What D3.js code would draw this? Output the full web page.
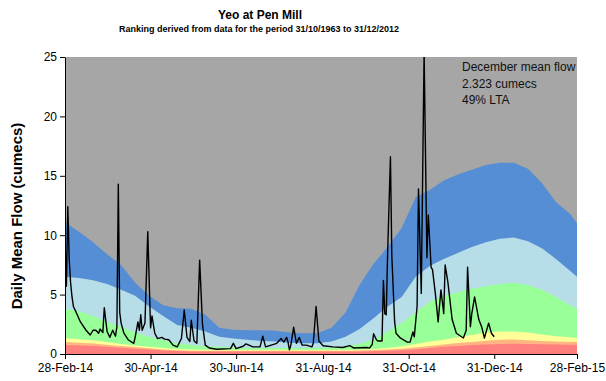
<!DOCTYPE html>
<html>
<head>
<meta charset="utf-8">
<script src="https://cdn.jsdelivr.net/npm/d3@7"></script>
<style>
  html, body { margin: 0; padding: 0; background: #ffffff; }
  svg { display: block; font-family: "Liberation Sans", Arial, sans-serif; }
</style>
</head>
<body>
<svg id="chart" width="606" height="381"></svg>
<script>
// Percentile band boundaries (cumecs), sampled every ten days across the water-year window
const bandDates = [
  "2014-02-28","2014-03-10","2014-03-20","2014-03-30","2014-04-09","2014-04-19","2014-04-29",
  "2014-05-09","2014-05-19","2014-05-29","2014-06-08","2014-06-18","2014-06-28","2014-07-08",
  "2014-07-18","2014-07-28","2014-08-07","2014-08-17","2014-08-27","2014-09-06","2014-09-16",
  "2014-09-26","2014-10-06","2014-10-16","2014-10-26","2014-11-05","2014-11-15","2014-11-25",
  "2014-12-05","2014-12-15","2014-12-25","2015-01-04","2015-01-14","2015-01-24","2015-02-03",
  "2015-02-13","2015-02-23","2015-02-28"
];
const notablyHighTop = [11.1,10.3,9.4,8.4,7.5,6.0,4.9,4.1,3.85,3.8,3.3,2.2,2.05,2.0,2.0,1.95,1.8,1.75,1.75,
  2.2,3.5,5.8,7.6,9.0,10.6,13.2,13.8,14.6,15.1,15.5,15.9,16.1,16.1,15.6,14.4,12.8,11.8,11.0];
const aboveNormalTop = [6.5,6.4,6.2,5.9,5.4,4.9,4.0,3.2,2.45,2.2,1.9,1.45,1.3,1.2,1.1,1.05,0.95,0.9,0.9,
  1.05,1.45,2.1,3.0,4.0,4.8,6.5,7.4,8.0,8.5,9.0,9.4,9.7,9.8,9.5,8.9,8.0,7.0,6.5];
const normalTop = [3.8,3.6,3.2,2.7,2.3,1.8,1.45,1.15,0.92,0.75,0.65,0.6,0.55,0.5,0.5,0.5,0.5,0.5,0.5,
  0.55,0.65,0.85,1.2,1.9,2.6,3.5,4.4,4.9,5.2,5.5,5.7,5.9,6.0,5.8,5.4,4.8,4.1,3.8];
const belowNormalTop = [1.35,1.25,1.15,1.0,0.85,0.72,0.6,0.5,0.42,0.38,0.35,0.35,0.35,0.35,0.35,0.35,0.35,0.35,0.35,
  0.35,0.35,0.38,0.42,0.5,0.65,0.85,1.05,1.2,1.4,1.6,1.8,1.9,1.9,1.8,1.65,1.5,1.4,1.35];
const notablyLowTop = [1.0,0.95,0.88,0.78,0.68,0.58,0.48,0.38,0.32,0.28,0.28,0.28,0.28,0.28,0.28,0.28,0.28,0.28,0.28,
  0.28,0.28,0.3,0.33,0.38,0.45,0.55,0.68,0.8,0.92,1.02,1.12,1.2,1.22,1.15,1.1,1.05,1.0,1.0];
const exceptionallyLowTop = [0.75,0.72,0.68,0.6,0.52,0.45,0.38,0.3,0.25,0.22,0.22,0.22,0.22,0.22,0.22,0.22,0.22,0.22,0.22,
  0.22,0.22,0.22,0.24,0.27,0.32,0.4,0.5,0.6,0.68,0.75,0.8,0.85,0.87,0.85,0.82,0.8,0.77,0.75];

// Band fill colours, highest band first
const bandColours = ["#558ED5", "#B7DEE8", "#99FF99", "#FFFF99", "#FFB583", "#FF7F7F"];
const bandSeries = [notablyHighTop, aboveNormalTop, normalTop, belowNormalTop, notablyLowTop, exceptionallyLowTop];

// Daily mean flow, 2014 (cumecs)
const dailyFlow = [
  ["2014-02-28",9.6],["2014-03-01",5.7],["2014-03-02",12.4],["2014-03-03",8.0],["2014-03-04",6.0],
  ["2014-03-05",4.8],["2014-03-06",4.0],["2014-03-08",3.5],["2014-03-11",2.7],["2014-03-15",2.0],
  ["2014-03-18",1.6],["2014-03-20",2.0],["2014-03-22",2.0],["2014-03-24",1.75],["2014-03-25",2.1],
  ["2014-03-27",1.8],["2014-03-28",3.9],["2014-03-30",1.9],["2014-04-01",1.4],["2014-04-03",2.0],
  ["2014-04-05",1.5],["2014-04-06",2.3],["2014-04-07",14.3],["2014-04-08",3.5],["2014-04-09",2.6],
  ["2014-04-11",1.75],["2014-04-14",1.2],["2014-04-18",0.9],["2014-04-19",1.4],["2014-04-21",2.7],
  ["2014-04-22",2.0],["2014-04-23",3.3],["2014-04-24",2.0],["2014-04-26",2.6],["2014-04-28",10.3],
  ["2014-04-30",2.2],["2014-05-01",3.2],["2014-05-03",1.75],["2014-05-05",1.3],["2014-05-08",1.4],
  ["2014-05-10",1.25],["2014-05-13",1.2],["2014-05-16",0.75],["2014-05-19",0.6],["2014-05-22",1.3],
  ["2014-05-24",3.7],["2014-05-26",1.4],["2014-05-28",1.05],["2014-05-29",2.85],["2014-05-31",1.1],
  ["2014-06-02",0.9],["2014-06-04",7.9],["2014-06-06",2.5],["2014-06-08",0.75],["2014-06-11",0.5],
  ["2014-06-16",0.4],["2014-06-26",0.45],["2014-06-28",0.9],["2014-06-30",0.45],["2014-07-05",0.65],
  ["2014-07-07",0.85],["2014-07-12",0.6],["2014-07-17",0.6],["2014-07-19",1.5],["2014-07-21",0.6],
  ["2014-07-25",0.75],["2014-07-29",0.9],["2014-08-01",1.3],["2014-08-03",1.0],["2014-08-05",1.4],
  ["2014-08-06",1.0],["2014-08-07",0.35],["2014-08-08",0.75],["2014-08-10",2.25],["2014-08-12",0.9],
  ["2014-08-14",1.4],["2014-08-16",0.75],["2014-08-19",0.75],["2014-08-23",0.6],["2014-08-24",0.9],
  ["2014-08-26",4.0],["2014-08-28",1.1],["2014-08-31",0.7],["2014-09-07",0.6],["2014-09-14",0.55],
  ["2014-09-19",0.7],["2014-09-22",0.5],["2014-10-01",0.55],["2014-10-03",0.5],["2014-10-05",0.8],
  ["2014-10-06",1.7],["2014-10-08",1.2],["2014-10-09",1.1],["2014-10-12",1.1],["2014-10-13",6.2],
  ["2014-10-14",3.4],["2014-10-15",3.3],["2014-10-16",8.5],["2014-10-18",16.6],["2014-10-19",8.2],
  ["2014-10-21",2.7],["2014-10-22",1.75],["2014-10-25",1.35],["2014-10-30",1.0],["2014-11-01",1.0],
  ["2014-11-03",1.85],["2014-11-04",1.45],["2014-11-06",4.0],["2014-11-07",13.9],["2014-11-09",5.1],
  ["2014-11-11",25.5],["2014-11-13",8.1],["2014-11-14",11.7],["2014-11-16",7.3],["2014-11-17",7.1],
  ["2014-11-19",5.1],["2014-11-21",2.7],["2014-11-23",5.4],["2014-11-25",3.4],["2014-11-26",7.5],
  ["2014-11-28",6.0],["2014-12-01",2.9],["2014-12-04",1.75],["2014-12-09",1.35],["2014-12-11",2.0],
  ["2014-12-12",7.3],["2014-12-14",2.3],["2014-12-15",3.4],["2014-12-17",4.8],["2014-12-20",2.9],
  ["2014-12-22",2.3],["2014-12-24",1.35],["2014-12-27",2.6],["2014-12-29",1.75],["2014-12-31",1.45]
];

const xTickDates = ["2014-02-28","2014-04-30","2014-06-30","2014-08-31","2014-10-31","2014-12-31","2015-02-28"];
const yTicks = [0, 5, 10, 15, 20, 25];
const noteLines = ["December mean flow", "2.323 cumecs", "49% LTA"];

const parse = d3.timeParse("%Y-%m-%d");
const svg = d3.select("#chart");
const plot = { left: 65, right: 577, top: 57, bottom: 354 };

const x = d3.scaleTime()
  .domain([parse("2014-02-28"), parse("2015-02-28")])
  .range([plot.left, plot.right]);
const y = d3.scaleLinear().domain([0, 25]).range([plot.bottom, plot.top]);

// clip region for the plot area
svg.append("defs").append("clipPath").attr("id", "plotClip")
  .append("rect")
  .attr("x", plot.left).attr("y", plot.top)
  .attr("width", plot.right - plot.left).attr("height", plot.bottom - plot.top);

const g = svg.append("g").attr("clip-path", "url(#plotClip)");

// exceptionally high background
g.append("rect")
  .attr("x", plot.left).attr("y", plot.top)
  .attr("width", plot.right - plot.left).attr("height", plot.bottom - plot.top)
  .attr("fill", "#A6A6A6");

const bandDateObjs = bandDates.map(parse);
bandSeries.forEach((series, i) => {
  const area = d3.area()
    .x((d, j) => x(bandDateObjs[j]))
    .y0(y(0))
    .y1(d => y(d));
  g.append("path")
    .datum(series)
    .attr("d", area)
    .attr("fill", bandColours[i]);
});

// daily flow hydrograph
const flowLine = d3.line()
  .x(d => x(parse(d[0])))
  .y(d => y(d[1]));
g.append("path")
  .datum(dailyFlow)
  .attr("d", flowLine)
  .attr("fill", "none")
  .attr("stroke", "#000")
  .attr("stroke-width", 1.4)
  .attr("stroke-linejoin", "round");

// axes
const yAxis = d3.axisLeft(y).tickValues(yTicks).tickSize(5).tickSizeOuter(0).tickPadding(3);
const yg = svg.append("g").attr("transform", `translate(${plot.left},0)`).call(yAxis);
const xAxis = d3.axisBottom(x)
  .tickValues(xTickDates.map(parse))
  .tickFormat(d3.timeFormat("%d-%b-%y"))
  .tickSize(5).tickSizeOuter(0).tickPadding(4);
const xg = svg.append("g").attr("transform", `translate(0,${plot.bottom})`).call(xAxis);

[yg, xg].forEach(a => {
  a.selectAll("path.domain").attr("stroke", "#000").attr("stroke-width", 1);
  a.selectAll(".tick line").attr("stroke", "#000");
  a.selectAll(".tick text").attr("fill", "#000")
    .style("font-size", "12px").style("font-family", '"Liberation Sans", Arial, sans-serif');
});

// titles
svg.append("text").attr("x", 260).attr("y", 19).attr("text-anchor", "middle")
  .style("font-weight", "bold").style("font-size", "12px").text("Yeo at Pen Mill");
svg.append("text").attr("x", 259).attr("y", 32).attr("text-anchor", "middle")
  .style("font-weight", "bold").style("font-size", "9px")
  .text("Ranking derived from data for the period 31/10/1963 to 31/12/2012");

svg.append("text")
  .attr("transform", "translate(22,216) rotate(-90)")
  .attr("text-anchor", "middle")
  .style("font-weight", "bold").style("font-size", "15px")
  .text("Daily Mean Flow (cumecs)");

// monthly summary note
svg.append("g").selectAll("text").data(noteLines).join("text")
  .attr("x", 462)
  .attr("y", (d, i) => 71 + i * 16.5)
  .style("font-size", "12px")
  .attr("fill", "#111")
  .text(d => d);
</script>
</body>
</html>
